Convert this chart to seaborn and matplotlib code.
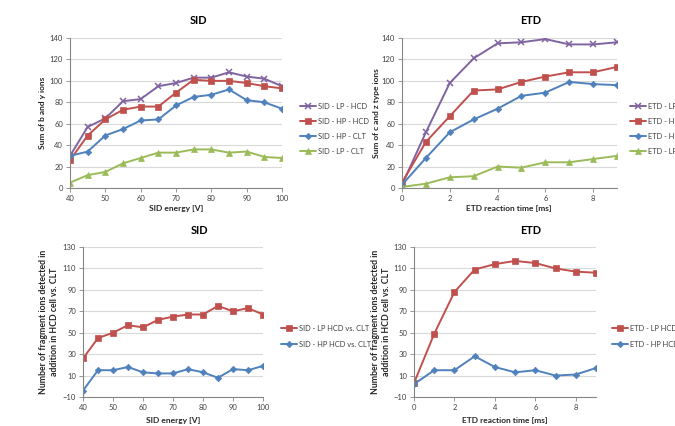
import matplotlib
matplotlib.use("Agg")
import matplotlib.pyplot as plt
import seaborn as sns
import pandas as pd
import numpy as np

sns.set_theme(style="white")
plt.rcParams['font.family'] = ['Lato', 'DejaVu Sans']

# ---------------- data ----------------
sid_energy = [40, 45, 50, 55, 60, 65, 70, 75, 80, 85, 90, 95, 100]
sid_lp_hcd = [30, 57, 65, 81, 83, 95, 98, 103, 103, 108, 104, 102, 95]
sid_hp_hcd = [26, 49, 64, 73, 76, 76, 89, 101, 100, 100, 98, 95, 93]
sid_hp_clt = [30, 34, 49, 55, 63, 64, 77, 85, 87, 92, 82, 80, 74]
sid_lp_clt = [5, 12, 15, 23, 28, 33, 33, 36, 36, 33, 34, 29, 28]

etd_time = [0, 1, 2, 3, 4, 5, 6, 7, 8, 9]
etd_lp_hcd = [3, 52, 98, 121, 135, 136, 139, 134, 134, 136]
etd_hp_hcd = [5, 43, 67, 91, 92, 99, 104, 108, 108, 113]
etd_hp_clt = [3, 28, 52, 64, 74, 86, 89, 99, 97, 96]
etd_lp_clt = [1, 4, 10, 11, 20, 19, 24, 24, 27, 30]

sid_lp_diff = [26, 45, 50, 57, 55, 62, 65, 67, 67, 75, 70, 73, 67]
sid_hp_diff = [-4, 15, 15, 18, 13, 12, 12, 16, 13, 8, 16, 15, 19]
etd_lp_diff = [3, 49, 88, 109, 114, 117, 115, 110, 107, 106]
etd_hp_diff = [2, 15, 15, 28, 18, 13, 15, 10, 11, 17]

sid_top_labels = ["SID - LP - HCD", "SID - HP - HCD", "SID - HP - CLT", "SID - LP - CLT"]
etd_top_labels = ["ETD - LP - HCD", "ETD - HP - HCD", "ETD - HP - CLT", "ETD - LP - CLT"]
sid_bot_labels = ["SID - LP HCD vs. CLT", "SID - HP HCD vs. CLT"]
etd_bot_labels = ["ETD - LP HCD vs. CLT", "ETD - HP HCD vs. CLT"]

# ---------------- style ----------------
PURPLE = "#8064A2"
RED = "#C0504D"
BLUE = "#4F81BD"
GREEN = "#9BBB59"
styles = {
    "lp_hcd": dict(color=PURPLE, marker="x", markersize=5, markeredgewidth=1.1),
    "hp_hcd": dict(color=RED, marker="s", markersize=5, markeredgewidth=0.5),
    "hp_clt": dict(color=BLUE, marker="D", markersize=3.3, markeredgewidth=0.5),
    "lp_clt": dict(color=GREEN, marker="^", markersize=5, markeredgewidth=0.5),
}

W, H = 675, 426
fig = plt.figure(figsize=(W / 100, H / 100), dpi=100)


def add_ax(left, right, top, bottom):
    return fig.add_axes([left / W, 1 - bottom / H, (right - left) / W, (bottom - top) / H])


def style_ax(ax, xlim, xticks, ylim, yticks):
    ax.set_xlim(*xlim)
    ax.set_ylim(*ylim)
    ax.set_xticks(xticks)
    ax.set_yticks(yticks)
    ax.yaxis.grid(True, color="#D9D9D9", linewidth=0.8)
    ax.xaxis.grid(False)
    ax.set_axisbelow(True)
    for s in ["top", "right"]:
        ax.spines[s].set_visible(False)
    for s in ["left", "bottom"]:
        ax.spines[s].set_color("#868686")
        ax.spines[s].set_linewidth(0.8)
    ax.tick_params(axis="both", which="both", direction="out", length=3, width=0.6,
                   color="#868686", labelsize=5.5, labelcolor="#404040", pad=2,
                   bottom=True, left=True)
    ax.set_xlabel("")
    ax.set_ylabel("")


def draw(ax, x, y, label, key):
    st = styles[key]
    sns.lineplot(x=x, y=y, ax=ax, label=label, color=st["color"], linewidth=1.4,
                 marker=st["marker"], markersize=st["markersize"],
                 markeredgecolor=st["color"], markerfacecolor=st["color"],
                 markeredgewidth=st["markeredgewidth"], legend=False)


def legend(ax, x, y, gap):
    h, l = ax.get_legend_handles_labels()
    leg = fig.legend(h, l, loc="upper left", bbox_to_anchor=(x / W, 1 - y / H),
                     frameon=False, fontsize=5.4, handlelength=2.1, handletextpad=0.3,
                     labelspacing=gap, borderaxespad=0, borderpad=0)
    for t in leg.get_texts():
        t.set_color("#404040")
    return leg


title_kw = dict(ha="center", va="center", fontsize=7.8, fontweight="bold", color="black")
lab_kw = dict(fontsize=6, fontweight="bold", color="#262626")
ylab2_kw = dict(fontsize=6.3, fontweight="bold", color="#262626")

# ---- top-left SID ----
ax1 = add_ax(70, 282, 38, 188)
draw(ax1, sid_energy, sid_lp_hcd, sid_top_labels[0], "lp_hcd")
draw(ax1, sid_energy, sid_hp_hcd, sid_top_labels[1], "hp_hcd")
draw(ax1, sid_energy, sid_hp_clt, sid_top_labels[2], "hp_clt")
draw(ax1, sid_energy, sid_lp_clt, sid_top_labels[3], "lp_clt")
style_ax(ax1, (40, 100), range(40, 101, 10), (0, 140), range(0, 141, 20))
legend(ax1, 300, 103, 1.05)
fig.text(198 / W, 1 - 20 / H, "SID", **title_kw)
fig.text(176 / W, 1 - 209 / H, "SID energy [V]", ha="center", va="center", **lab_kw)
fig.text(43 / W, 1 - 113 / H, "Sum of b and y ions", ha="center", va="center", rotation=90, **lab_kw)

# ---- top-right ETD ----
ax2 = add_ax(402, 617, 38, 188)
draw(ax2, etd_time, etd_lp_hcd, etd_top_labels[0], "lp_hcd")
draw(ax2, etd_time, etd_hp_hcd, etd_top_labels[1], "hp_hcd")
draw(ax2, etd_time, etd_hp_clt, etd_top_labels[2], "hp_clt")
draw(ax2, etd_time, etd_lp_clt, etd_top_labels[3], "lp_clt")
style_ax(ax2, (0, 9), range(0, 9, 2), (0, 140), range(0, 141, 20))
legend(ax2, 630, 103, 1.05)
fig.text(531 / W, 1 - 20 / H, "ETD", **title_kw)
fig.text(509 / W, 1 - 209 / H, "ETD reaction time [ms]", ha="center", va="center", **lab_kw)
fig.text(377 / W, 1 - 113 / H, "Sum of c and z type ions", ha="center", va="center", rotation=90, **lab_kw)

# ---- bottom-left SID ----
ax3 = add_ax(83, 263, 247, 397)
draw(ax3, sid_energy, sid_lp_diff, sid_bot_labels[0], "hp_hcd")
draw(ax3, sid_energy, sid_hp_diff, sid_bot_labels[1], "hp_clt")
style_ax(ax3, (40, 100), range(40, 101, 10), (-10, 130), range(-10, 131, 20))
legend(ax3, 281, 325, 1.15)
fig.text(199 / W, 1 - 230 / H, "SID", **title_kw)
fig.text(173 / W, 1 - 420 / H, "SID energy [V]", ha="center", va="center", **lab_kw)
fig.text(49 / W, 1 - 322 / H, "Number of fragment ions detected in\naddition in HCD cell vs. CLT",
         ha="center", va="center", rotation=90, linespacing=1.3, **ylab2_kw)

# ---- bottom-right ETD ----
ax4 = add_ax(414, 596, 247, 397)
draw(ax4, etd_time, etd_lp_diff, etd_bot_labels[0], "hp_hcd")
draw(ax4, etd_time, etd_hp_diff, etd_bot_labels[1], "hp_clt")
style_ax(ax4, (0, 9), range(0, 9, 2), (-10, 130), range(-10, 131, 20))
legend(ax4, 612, 325, 1.15)
fig.text(531 / W, 1 - 230 / H, "ETD", **title_kw)
fig.text(505 / W, 1 - 420 / H, "ETD reaction time [ms]", ha="center", va="center", **lab_kw)
fig.text(381 / W, 1 - 322 / H, "Number of fragment ions detected in\naddition in HCD cell vs. CLT",
         ha="center", va="center", rotation=90, linespacing=1.3, **ylab2_kw)

fig.savefig("out.png", dpi=100, facecolor="white")
